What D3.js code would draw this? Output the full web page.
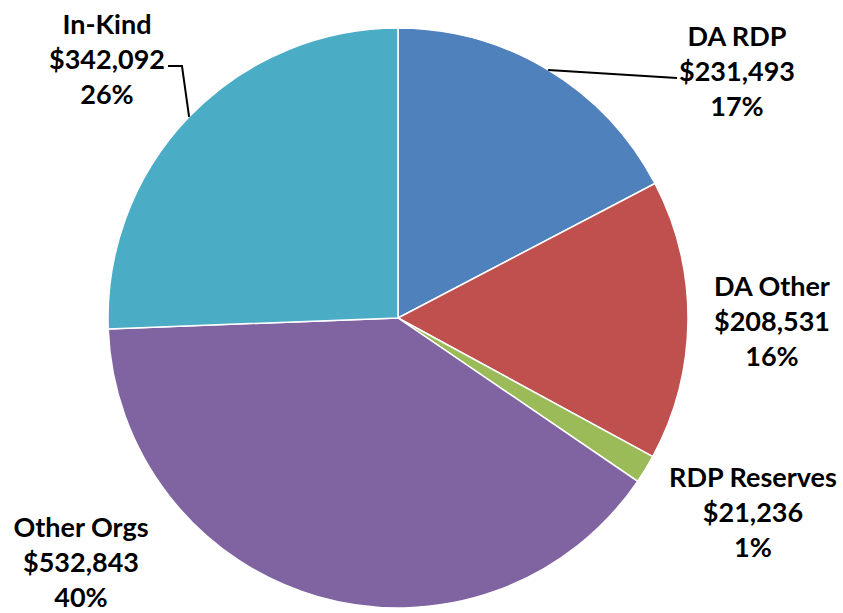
<!DOCTYPE html>
<html>
<head>
<meta charset="utf-8">
<script src="https://cdn.jsdelivr.net/npm/d3@7"></script>
<style>
  body { margin: 0; background: #fff; }
  svg text { font-family: Lato, "Open Sans", sans-serif; font-weight: bold; fill: #000; }
</style>
</head>
<body>
<svg id="chart"></svg>
<script>
// data
let categories = ['DA RDP', 'DA Other', 'RDP Reserves', 'Other Orgs', 'In-Kind'];
let amounts = [231493, 208531, 21236, 532843, 342092];
let pctLabels = ['17%', '16%', '1%', '40%', '26%'];
let colors = ['#4f81bd', '#c0504d', '#9bbb59', '#8064a2', '#4bacc6'];

// label layout (centre x, first baseline y) in page pixels
let labelX = [737, 772, 753, 81, 107];
let labelY = [46, 296, 487, 537, 34];
let hasLeader = [true, false, false, false, true];

function makeChart() {
  let w = 843;
  let h = 613;
  let cx = 398, cy = 318, r = 290;
  let lineH = 35;

  let dataset = categories.map((c, i) => ({
    name: c, amount: amounts[i], pct: pctLabels[i], color: colors[i],
    lx: labelX[i], ly: labelY[i], leader: hasLeader[i]
  }));

  let svg = d3.select('#chart')
    .attr('width', w)
    .attr('height', h);

  let pie = d3.pie()
    .sort(null)
    .value((d) => d.amount);

  let arc = d3.arc()
    .innerRadius(0)
    .outerRadius(r);

  let arcs = pie(dataset);

  let g = svg.append('g')
    .attr('transform', `translate(${cx},${cy})`);

  g.selectAll('path')
    .data(arcs)
    .enter()
    .append('path')
    .attr('d', arc)
    .attr('fill', (d) => d.data.color)
    .attr('stroke', '#fff')
    .attr('stroke-width', 1.5);

  let fmt = d3.format('$,');

  // labels
  let labels = svg.selectAll('text.lbl')
    .data(arcs)
    .enter()
    .append('text')
    .attr('class', 'lbl')
    .attr('text-anchor', 'middle')
    .style('font-size', '27px');

  labels.each(function (d) {
    let t = d3.select(this);
    let lines = [d.data.name, fmt(d.data.amount), d.data.pct];
    lines.forEach((s, k) => {
      t.append('tspan')
        .attr('x', d.data.lx)
        .attr('y', d.data.ly + k * lineH)
        .text(s);
    });
  });

  // leader lines from slice edge mid-angle to the amount line
  arcs.filter((d) => d.data.leader).forEach((d) => {
    let a = (d.startAngle + d.endAngle) / 2;
    let px = cx + r * Math.sin(a);
    let py = cy - r * Math.cos(a);
    let amtNode = labels.filter((e) => e === d).selectAll('tspan').nodes()[1];
    let bb = amtNode.getBBox();
    let ty = d.data.ly + lineH - 3;
    let pts;
    if (px > cx) {
      pts = [[px, py], [bb.x - 2, ty]];
    } else {
      let ex = bb.x + bb.width + 3;
      pts = [[ex, ty], [ex + 14, ty], [px, py]];
    }
    svg.append('path')
      .attr('d', d3.line()(pts))
      .attr('fill', 'none')
      .attr('stroke', '#000')
      .attr('stroke-width', 2);
  });
}

window.onload = makeChart;
</script>
</body>
</html>
